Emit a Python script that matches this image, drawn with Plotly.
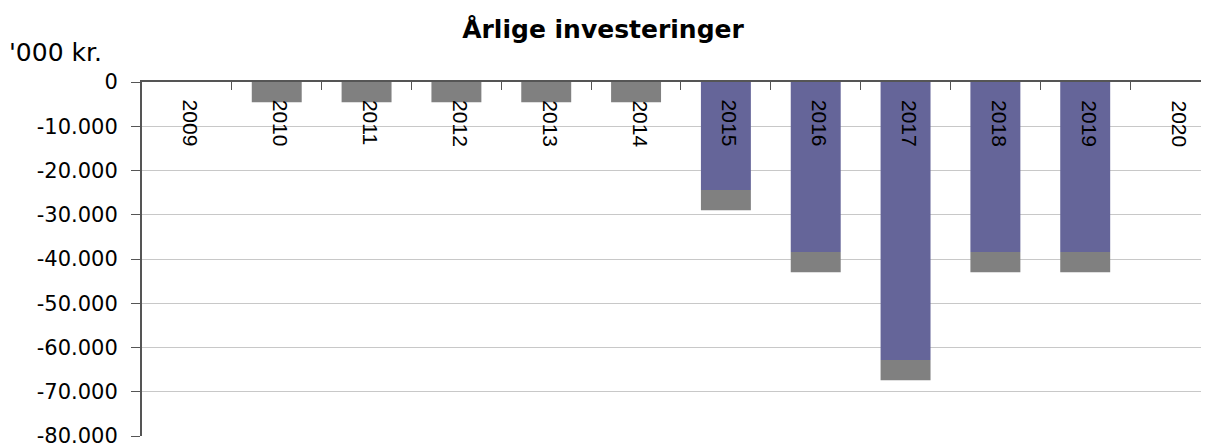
import plotly.graph_objects as go

years = ["2009", "2010", "2011", "2012", "2013", "2014", "2015", "2016", "2017", "2018", "2019", "2020"]
blue_values = [0, 0, 0, 0, 0, 0, -24400, -38400, -62800, -38400, -38400, 0]
gray_values = [0, -4600, -4600, -4600, -4600, -4600, -4600, -4600, -4600, -4600, -4600, 0]
y_ticks = [0, -10000, -20000, -30000, -40000, -50000, -60000, -70000, -80000]


def fmt(v):
    s = f"{abs(v):,}".replace(",", ".")
    return ("-" + s) if v < 0 else s


# the page body has an ~8px margin, so the figure is laid out 8px smaller
OFF = 8
W, H = 1209 - OFF, 446 - OFF
L, T, B = 142 - OFF, 82 - OFF, 10

fig = go.Figure()
fig.add_trace(go.Bar(x=years, y=blue_values, marker=dict(color="#656599", line=dict(width=0)), showlegend=False))
fig.add_trace(go.Bar(x=years, y=gray_values, marker=dict(color="#808080", line=dict(width=0)), showlegend=False))

plot_w = W - L
plot_h = H - T - B

fig.update_layout(
    width=W, height=H,
    barmode="relative",
    bargap=0.444,
    plot_bgcolor="white",
    paper_bgcolor="white",
    margin=dict(l=L, r=0, t=T, b=B, autoexpand=False),
    title=dict(text="<b>Årlige investeringer</b>", x=(603 - OFF) / W, xanchor="center",
               y=1 - (29 - OFF) / H, yanchor="middle", xref="container", yref="container",
               font=dict(family="DejaVu Sans", size=25, color="black")),
    xaxis=dict(type="category", side="top", showgrid=False, showline=True, linecolor="#555555", linewidth=2,
               range=[-0.5, 11.378], automargin=False,
               ticks="inside", tickson="boundaries", ticklen=8, tickcolor="#555555",
               showticklabels=False),
    yaxis=dict(range=[-80000, 0], tickvals=y_ticks, ticktext=[fmt(v) for v in y_ticks], automargin=False,
               showgrid=True, gridcolor="#c8c8c8", gridwidth=1, zeroline=False,
               showline=True, linecolor="#555555", linewidth=2,
               ticks="outside", ticklen=9, tickcolor="#555555", ticklabelstandoff=9,
               ticklabeloverflow="allow",
               tickfont=dict(family="DejaVu Sans", size=21, color="black")),
)
for i, yr in enumerate(years):
    fig.add_annotation(x=i, y=0, xref="x", yref="y", text=yr, textangle=90, showarrow=False,
                       xanchor="center", yanchor="top", yshift=-16, xshift=4,
                       font=dict(family="Liberation Sans", size=21, color="black"))
fig.add_annotation(text="'000 kr.", xref="paper", yref="paper", x=-(L + 1) / plot_w, y=1 + (82 - 53) / plot_h,
                   xanchor="left", yanchor="middle", showarrow=False,
                   font=dict(family="DejaVu Sans", size=25, color="black"))

fig.write_html("out.html")
